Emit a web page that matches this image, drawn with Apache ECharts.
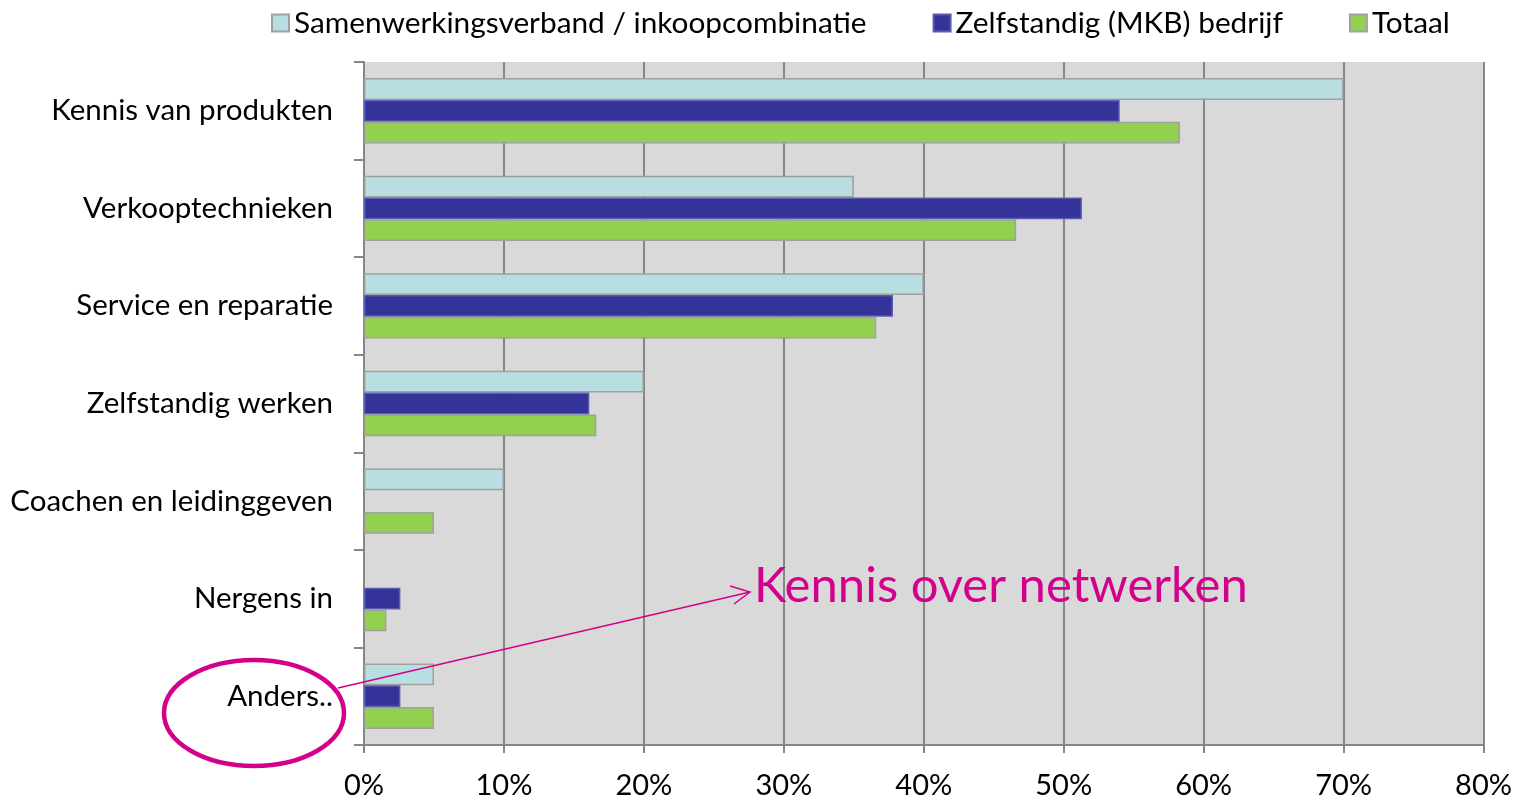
<!DOCTYPE html>
<html>
<head>
<meta charset="utf-8">
<script src="https://cdn.jsdelivr.net/npm/echarts@6/dist/echarts.min.js"></script>
<style>
html, body { margin: 0; padding: 0; background: #fff; }
#chart { width: 1515px; height: 800px; }
</style>
</head>
<body>
<div id="chart"></div>
<script>
var categories = ['Kennis van produkten', 'Verkooptechnieken', 'Service en reparatie', 'Zelfstandig werken', 'Coachen en leidinggeven', 'Nergens in', 'Anders..'];
var samenwerking = [70, 35, 40, 20, 10, 0, 5];
var zelfstandig = [54, 51.3, 37.8, 16.1, 0, 2.6, 2.6];
var totaal = [58.3, 46.6, 36.6, 16.6, 5, 1.6, 5];
var seriesNames = ['Samenwerkingsverband / inkoopcombinatie', 'Zelfstandig (MKB) bedrijf', 'Totaal'];

var FONT = 'Lato';
var MAGENTA = '#d4008c';

var myChart = echarts.init(document.getElementById('chart'));

function barSeries(name, data, color, border) {
    return {
        name: name,
        type: 'bar',
        // zero values are not drawn at all in the original
        data: data.map(function (v) { return v === 0 ? null : v; }),
        barGap: '0%',
        barCategoryGap: '33%',
        itemStyle: {
            color: color,
            borderColor: border,
            borderWidth: 1.5
        }
    };
}

var option = {
    animation: false,
    textStyle: { fontFamily: FONT },
    legend: {
        top: 3,
        left: 266,
        itemWidth: 17,
        itemHeight: 17,
        itemGap: 66,
        icon: 'rect',
        textStyle: { fontSize: 29.8, color: '#000', fontFamily: FONT },
        data: seriesNames
    },
    grid: {
        left: 364,
        right: 31,
        top: 62,
        bottom: 55,
        show: true,
        backgroundColor: '#d9d9d9',
        borderWidth: 0
    },
    xAxis: {
        type: 'value',
        min: 0,
        max: 80,
        interval: 10,
        axisLine: { show: true, lineStyle: { color: '#868686', width: 2 } },
        axisTick: { show: true, length: 8, lineStyle: { color: '#868686', width: 2 } },
        splitLine: { show: true, lineStyle: { color: '#868686', width: 2 } },
        axisLabel: {
            formatter: '{value}%',
            fontSize: 29,
            color: '#000',
            margin: 26,
            fontFamily: FONT
        }
    },
    yAxis: {
        type: 'category',
        inverse: true,
        data: categories,
        axisLine: { show: true, lineStyle: { color: '#868686', width: 2 } },
        axisTick: { show: true, length: 10, lineStyle: { color: '#868686', width: 2 } },
        axisLabel: {
            fontSize: 29.5,
            color: '#000',
            margin: 31,
            fontFamily: FONT
        }
    },
    series: [
        barSeries(seriesNames[0], samenwerking, '#b7dfe2', '#a0a0a0'),
        barSeries(seriesNames[1], zelfstandig, '#333399', '#5a5ab0'),
        barSeries(seriesNames[2], totaal, '#92d050', '#a0a0a0')
    ],
    graphic: [
        {
            type: 'ellipse',
            shape: { cx: 254, cy: 713, rx: 90, ry: 53 },
            style: { fill: 'none', stroke: MAGENTA, lineWidth: 4.5 },
            z: 100
        },
        {
            type: 'line',
            shape: { x1: 338, y1: 688, x2: 750, y2: 592 },
            style: { stroke: MAGENTA, lineWidth: 1.5 },
            z: 100
        },
        {
            type: 'polyline',
            shape: { points: [[730, 586], [750, 592], [734, 604]] },
            style: { stroke: MAGENTA, lineWidth: 1.5, fill: 'none' },
            z: 100
        },
        {
            type: 'text',
            left: 754,
            top: 562,
            style: { text: 'Kennis over netwerken', fill: MAGENTA, font: '49px ' + FONT },
            z: 100
        }
    ]
};
myChart.setOption(option);
</script>
</body>
</html>
